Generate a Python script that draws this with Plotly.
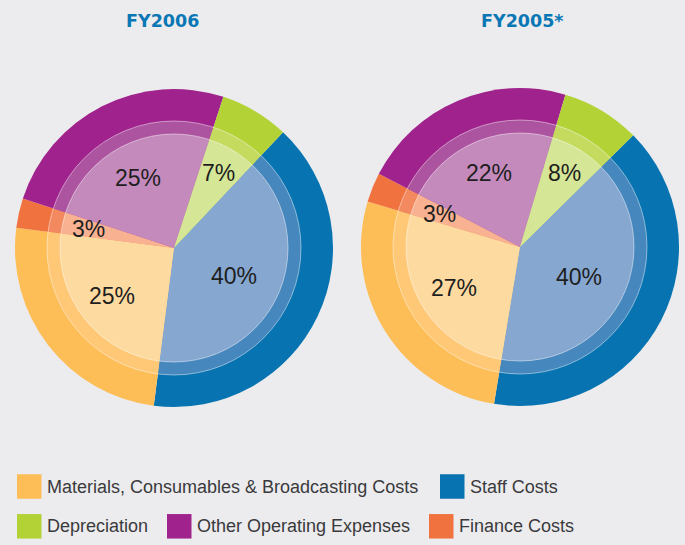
import math
import plotly.graph_objects as go

W, H = 685, 545

# ---- data ----
categories = ["Staff Costs", "Materials, Consumables & Broadcasting Costs",
              "Finance Costs", "Other Operating Expenses", "Depreciation"]
fy2006 = [40, 25, 3, 25, 7]
fy2005 = [40, 27, 3, 22, 8]
titles = ["FY2006", "FY2005*"]

# ---- styles ----
outer_colors = ["#0773B1", "#FDBD57", "#F0723E", "#A0228C", "#B2D235"]
mid_colors = ["#4688BE", "#FEC876", "#F38A5F", "#AD54A0", "#C4DB60"]
inner_colors = ["#85A7D0", "#FDDAA0", "#F9B291", "#C48ABC", "#D5E697"]

BG = "#ECECEE"
R_OUT, R_MID, R_IN = 159, 127, 114
pies = [
    dict(values=fy2006, cx=174, cy=248, rot=43.3, title=titles[0], tx=162),
    dict(values=fy2005, cx=520, cy=247, rot=45.4, title=titles[1], tx=522),
]


def dom(cx, cy, r):
    return dict(x=[(cx - r) / W, (cx + r) / W],
                y=[(H - cy - r) / H, (H - cy + r) / H])


fig = go.Figure()
shapes = []
annotations = []

for p in pies:
    for r, cols in ((R_OUT, outer_colors), (R_MID, mid_colors), (R_IN, inner_colors)):
        fig.add_trace(go.Pie(
            labels=categories, values=p["values"], sort=False,
            direction="clockwise", rotation=p["rot"],
            marker=dict(colors=cols, line=dict(width=0)),
            textinfo="none", hoverinfo="label+percent",
            showlegend=False, domain=dom(p["cx"], p["cy"], r),
        ))
    # light ring outlines
    for r in (R_MID, R_IN):
        d = dom(p["cx"], p["cy"], r)
        shapes.append(dict(type="circle", xref="paper", yref="paper",
                           x0=d["x"][0], x1=d["x"][1], y0=d["y"][0], y1=d["y"][1],
                           line=dict(color="rgba(255,255,255,0.45)", width=1)))
    # percentage labels near slice centroids
    total = sum(p["values"])
    cum = 0
    for v in p["values"]:
        half = math.pi * v / total
        mid = math.radians(p["rot"]) + 2 * math.pi * (cum + v / 2) / total
        cum += v
        r_lab = 1.15 * (2 / 3) * R_IN * math.sin(half) / half
        x = p["cx"] + r_lab * math.sin(mid)
        y = p["cy"] - r_lab * math.cos(mid)
        annotations.append(dict(x=x / W, y=(H - y) / H, xref="paper", yref="paper",
                                text=f"{round(100 * v / total)}%", showarrow=False,
                                font=dict(family="Liberation Sans", size=23,
                                          color="#1E1E1E"),
                                xanchor="center", yanchor="middle"))
    annotations.append(dict(x=p["tx"] / W, y=(H - 21) / H, xref="paper", yref="paper",
                            text=f"<b>{p['title']}</b>", showarrow=False,
                            font=dict(family="DejaVu Sans", size=17.5, color="#0A77B5"),
                            xanchor="center", yanchor="middle"))

# ---- manual legend ----
legend_order = [1, 0, 4, 3, 2]
legend_pos = [(17, 486.5), (440, 486.5), (17, 526.3), (167, 526.3), (429, 526.3)]
SW = 24.5
for idx, (lx, ly) in zip(legend_order, legend_pos):
    shapes.append(dict(type="rect", xref="paper", yref="paper",
                       x0=lx / W, x1=(lx + SW) / W,
                       y0=(H - ly - SW / 2) / H, y1=(H - ly + SW / 2) / H,
                       fillcolor=outer_colors[idx], line=dict(width=0)))
    annotations.append(dict(x=(lx + SW + 3) / W, y=(H - ly) / H, xref="paper", yref="paper",
                            text=categories[idx], showarrow=False,
                            font=dict(family="Liberation Sans", size=18, color="#3A3A3C"),
                            xanchor="left", yanchor="middle"))

fig.update_layout(
    width=W, height=H, margin=dict(l=0, r=0, t=0, b=0),
    paper_bgcolor=BG, plot_bgcolor=BG,
    shapes=shapes, annotations=annotations,
)

fig.write_html("out.html", config={"displayModeBar": False},
               post_script="document.body.style.margin='0';document.body.style.background='#ECECEE';")
